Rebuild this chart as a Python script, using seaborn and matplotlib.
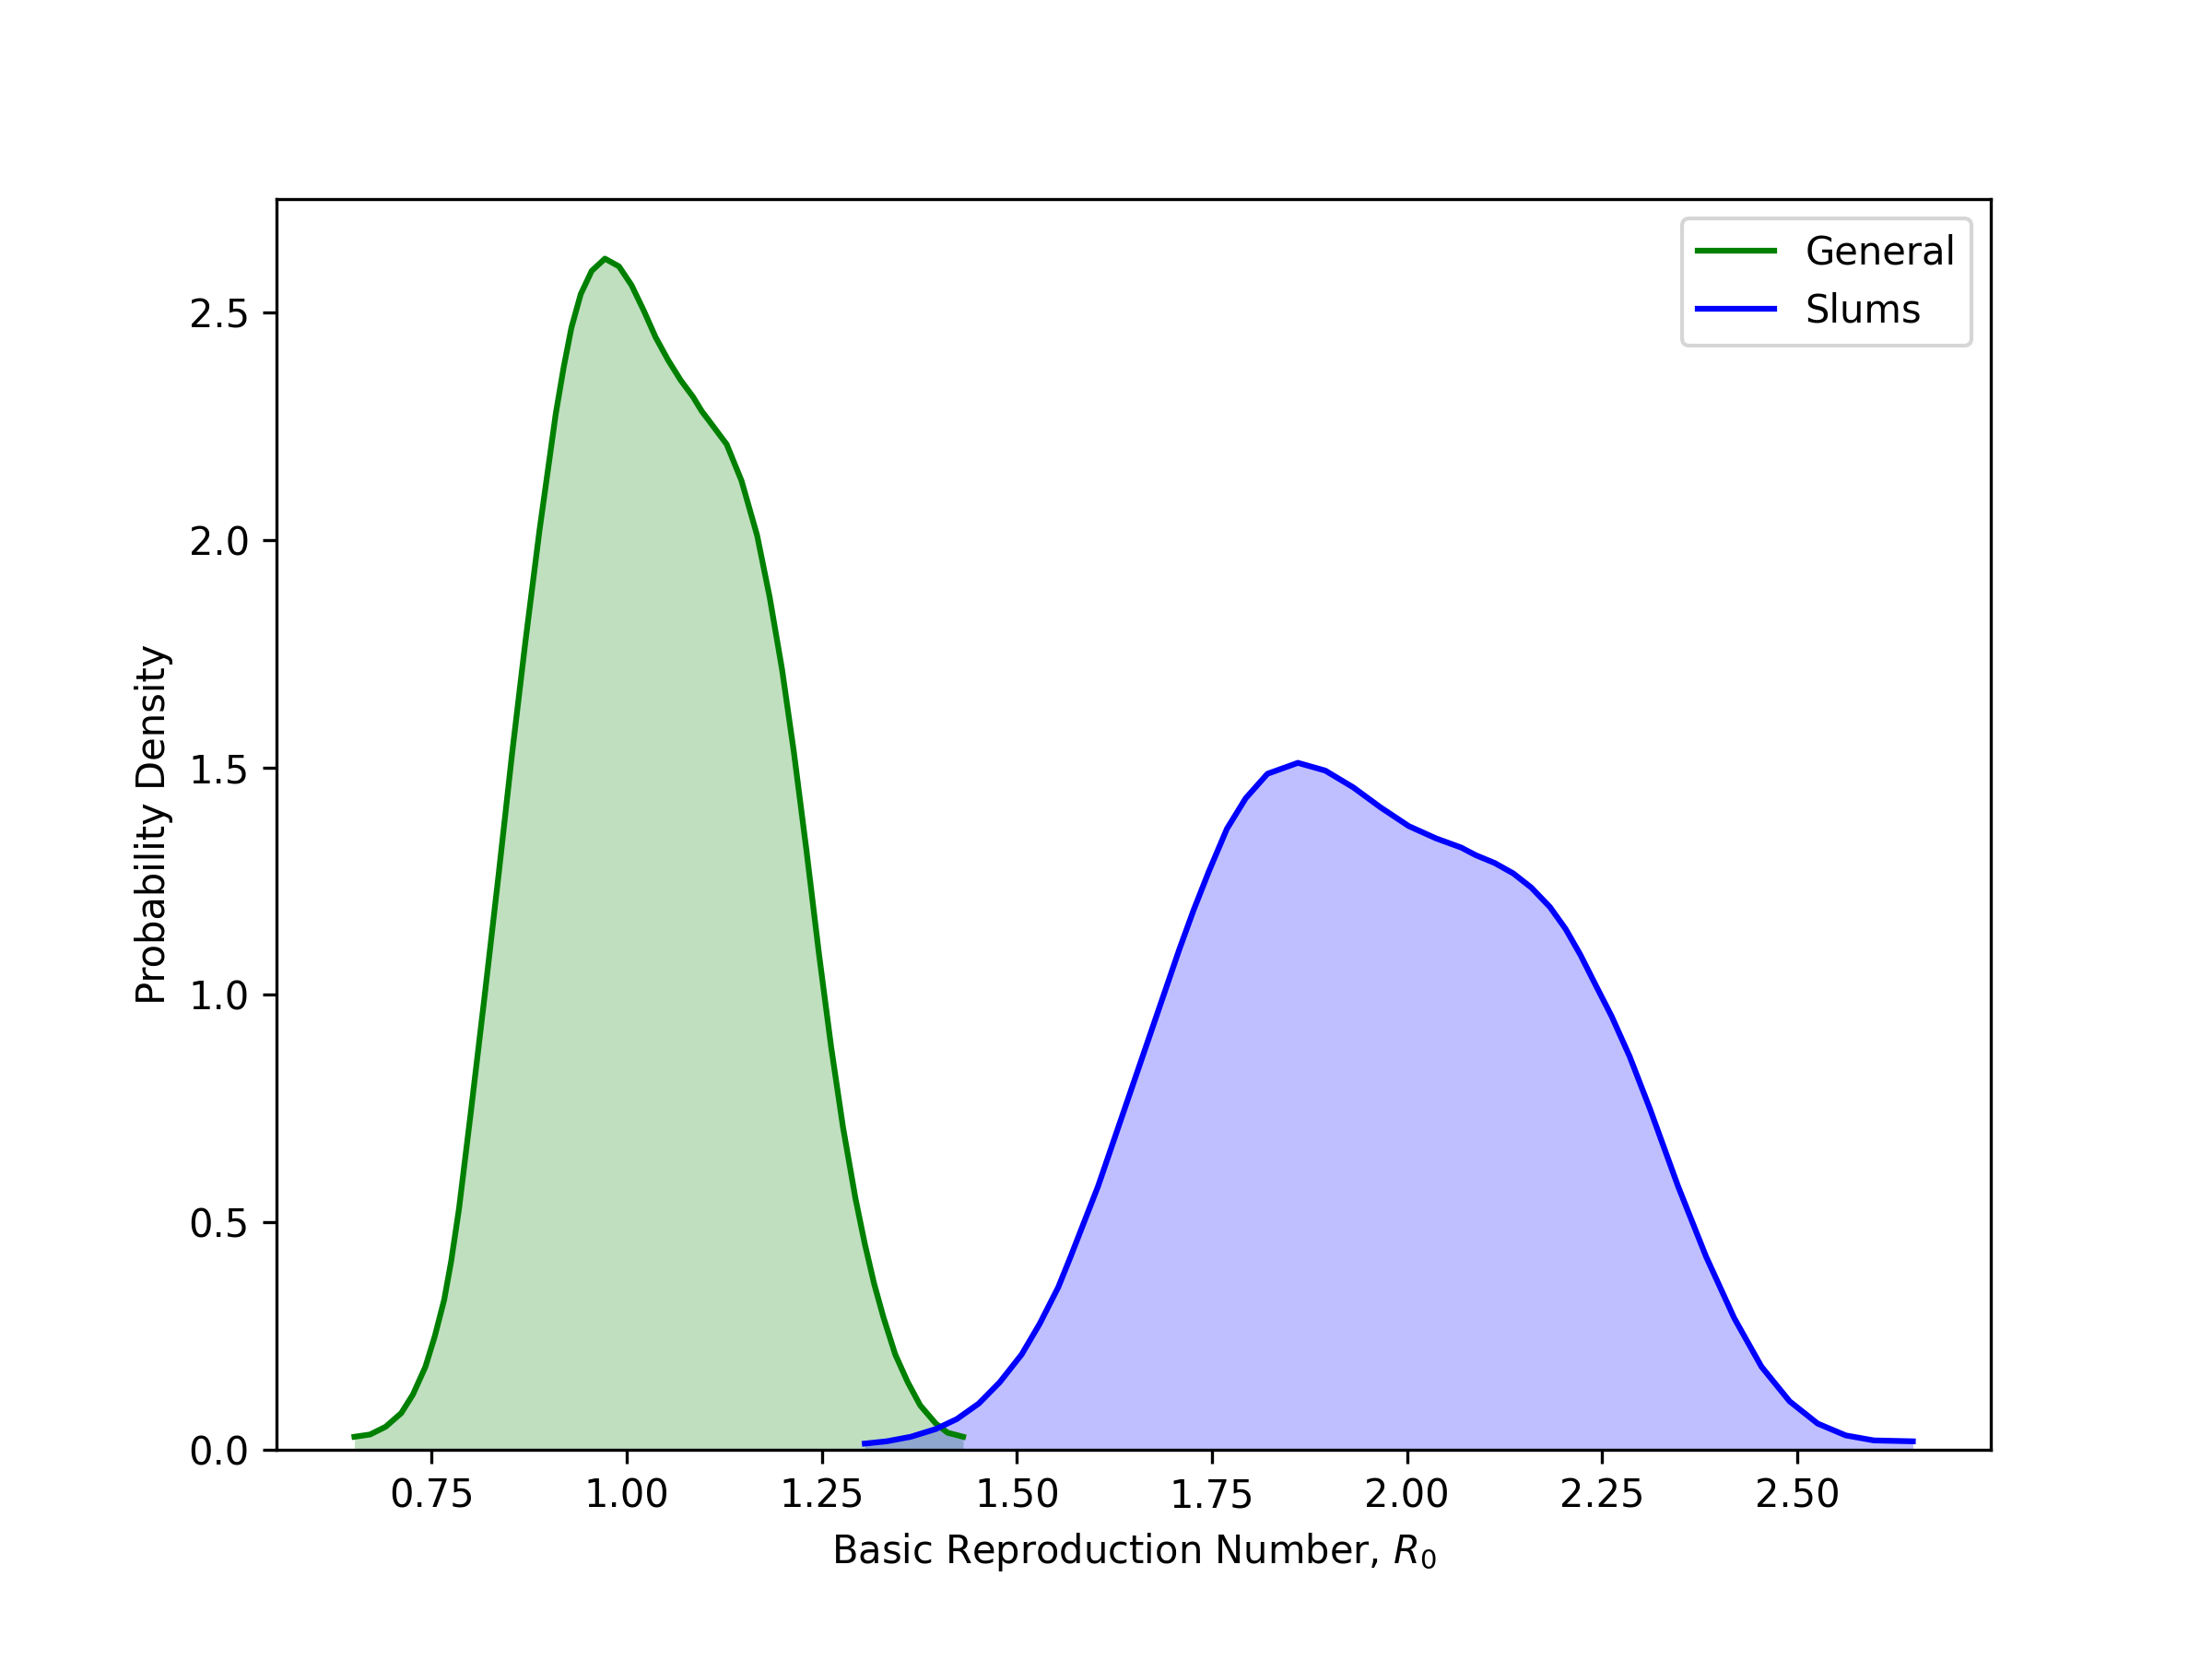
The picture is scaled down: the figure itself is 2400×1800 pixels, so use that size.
import matplotlib
matplotlib.use("Agg")
import matplotlib.pyplot as plt
import numpy as np
import pandas as pd
import seaborn as sns

# density curves (R0 value, density)
general_r0 = [0.651, 0.671, 0.691, 0.711, 0.726, 0.742, 0.754, 0.766, 0.775, 0.785,
              0.800, 0.818, 0.836, 0.853, 0.870, 0.888, 0.909, 0.919, 0.929, 0.941,
              0.955, 0.972, 0.990, 1.006, 1.022, 1.037, 1.053, 1.069, 1.085, 1.096,
              1.104, 1.128, 1.147, 1.167, 1.183, 1.199, 1.214, 1.230, 1.246, 1.262,
              1.277, 1.293, 1.305, 1.317, 1.329, 1.344, 1.360, 1.376, 1.396, 1.411,
              1.431]
general_density = [0.029, 0.034, 0.051, 0.081, 0.122, 0.183, 0.250, 0.330, 0.415, 0.530,
                   0.740, 1.000, 1.268, 1.530, 1.775, 2.019, 2.277, 2.378, 2.466, 2.540,
                   2.591, 2.618, 2.601, 2.560, 2.503, 2.445, 2.395, 2.351, 2.314, 2.283,
                   2.265, 2.210, 2.130, 2.010, 1.875, 1.715, 1.535, 1.321, 1.094, 0.884,
                   0.710, 0.553, 0.453, 0.365, 0.291, 0.210, 0.149, 0.098, 0.058, 0.038,
                   0.029]

slums_r0 = [1.305, 1.333, 1.364, 1.396, 1.423, 1.451, 1.478, 1.506, 1.529, 1.553,
            1.569, 1.604, 1.641, 1.677, 1.708, 1.726, 1.746, 1.769, 1.793, 1.821,
            1.860, 1.895, 1.931, 1.966, 2.002, 2.037, 2.069, 2.088, 2.112, 2.136,
            2.159, 2.183, 2.203, 2.222, 2.242, 2.262, 2.285, 2.311, 2.347, 2.383,
            2.419, 2.454, 2.490, 2.526, 2.562, 2.598, 2.648]
slums_density = [0.014, 0.019, 0.029, 0.046, 0.068, 0.102, 0.149, 0.210, 0.277, 0.358,
                 0.426, 0.580, 0.765, 0.945, 1.100, 1.185, 1.272, 1.365, 1.432, 1.486,
                 1.510, 1.493, 1.456, 1.412, 1.371, 1.344, 1.324, 1.307, 1.290, 1.267,
                 1.236, 1.193, 1.145, 1.088, 1.020, 0.953, 0.865, 0.750, 0.580, 0.425,
                 0.290, 0.183, 0.107, 0.058, 0.032, 0.021, 0.019]

groups = ["General", "Slums"]
colors = ["green", "blue"]

general_df = pd.DataFrame({"r0": general_r0, "density": general_density})
slums_df = pd.DataFrame({"r0": slums_r0, "density": slums_density})

fig, ax = plt.subplots(figsize=(8, 6), dpi=300)

for df, name, col in zip([general_df, slums_df], groups, colors):
    # line first, then the shaded area underneath like kdeplot(shade=True)
    sns.lineplot(x="r0", y="density", data=df, color=col, label=name,
                 linewidth=1.5, ax=ax, sort=False, solid_joinstyle="round")
    ax.fill_between(df["r0"], df["density"], color=col, alpha=0.25, linewidth=0)

ax.set_ylim(bottom=0)
ax.set_xlabel("Basic Reproduction Number, $R_0$")
ax.set_ylabel("Probability Density")
ax.legend(loc="upper right")

plt.subplots_adjust(left=0.125, right=0.9, top=0.88, bottom=0.126)
plt.savefig("out.png", dpi=300)
